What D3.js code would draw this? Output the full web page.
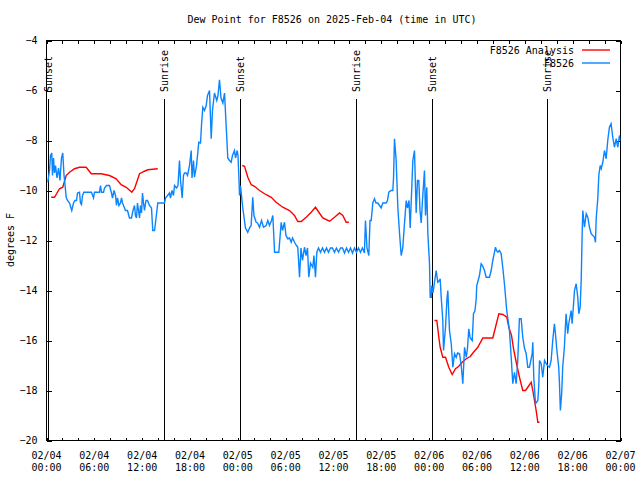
<!DOCTYPE html>
<html><head><meta charset="utf-8">
<script src="https://cdn.jsdelivr.net/npm/d3@7/dist/d3.min.js"></script>
<style>
html,body{margin:0;padding:0;background:#fff;}
svg{display:block;}
text{font-family:"DejaVu Sans Mono","Liberation Mono",monospace;font-size:10px;fill:#000;}
</style></head>
<body>
<svg id="chart" width="640" height="480"></svg>
<script>
// ---- data (hours after 2025-02-04 00:00 UTC) ----
const titleText = "Dew Point for F8526 on 2025-Feb-04 (time in UTC)";
const yLabel = "degrees F";
const seriesNames = ["F8526 Analysis", "F8526"];
const yTicks = [-4, -6, -8, -10, -12, -14, -16, -18, -20];
const xLabelHours = [0, 6, 12, 18, 24, 30, 36, 42, 48, 54, 60, 66, 72];

const obsTime = [0.16,0.38,0.50,0.66,0.75,0.88,1.00,1.13,1.32,1.51,1.69,1.88,2.04,2.20,2.30,2.47,2.63,2.89,3.17,3.39,3.57,3.76,3.89,4.14,4.26,4.39,4.52,4.68,5.14,5.64,5.90,6.02,6.65,6.77,6.90,7.15,7.28,7.53,7.90,8.15,8.28,8.47,8.66,8.78,8.91,9.09,9.28,9.41,9.53,9.66,9.91,10.16,10.41,10.66,10.85,11.04,11.16,11.29,11.41,11.54,11.67,11.79,11.92,12.04,12.17,12.29,12.48,12.67,12.92,13.17,13.33,13.55,13.74,13.96,14.55,14.80,14.93,15.18,15.43,15.55,15.74,15.93,16.06,16.31,16.49,16.68,16.81,17.02,17.18,17.31,17.52,17.69,17.94,18.15,18.25,18.44,18.56,18.82,19.10,19.32,19.44,19.61,19.82,20.03,20.20,20.45,20.66,20.82,21.07,21.36,21.51,21.70,21.89,22.12,22.33,22.52,22.74,22.95,23.16,23.33,23.58,23.71,23.92,24.02,24.15,24.21,24.33,24.62,24.96,25.25,25.46,25.67,25.87,26.02,26.30,26.47,26.72,26.97,27.22,27.55,27.76,27.97,28.22,28.39,28.61,28.86,29.14,29.44,29.61,29.85,30.04,30.27,30.48,30.69,30.86,31.11,31.36,31.52,31.74,31.92,32.11,32.36,32.55,32.74,32.90,33.12,33.40,33.55,33.74,33.91,34.12,34.37,34.62,34.87,35.12,35.37,35.62,35.87,36.12,36.37,36.63,36.88,37.13,37.38,37.63,37.88,38.13,38.38,38.63,38.88,39.13,39.38,39.63,39.88,40.01,40.20,40.43,40.58,40.73,40.93,41.14,41.33,41.56,41.77,41.98,42.18,42.61,42.77,42.94,43.21,43.44,43.53,43.65,43.86,44.07,44.28,44.49,44.69,44.91,45.12,45.28,45.47,45.62,45.78,45.95,46.16,46.37,46.53,46.70,46.85,47.00,47.16,47.41,47.54,47.70,47.83,48.04,48.13,48.26,48.33,48.48,48.67,48.88,49.08,49.29,49.38,49.51,49.71,49.80,50.05,50.24,50.34,50.55,50.77,50.97,51.18,51.39,51.56,51.81,52.02,52.22,52.44,52.65,52.81,52.97,53.15,53.40,53.56,53.75,53.90,53.97,54.31,54.52,54.69,54.94,55.15,55.56,55.78,55.98,56.32,56.44,56.61,56.82,57.03,57.23,57.44,57.73,58.07,58.29,58.49,58.70,58.91,59.11,59.32,59.54,59.74,59.95,60.17,60.37,60.58,60.92,61.00,61.12,61.34,61.63,61.75,61.84,62.05,62.25,62.47,62.68,62.84,63.09,63.30,63.50,63.71,63.84,64.00,64.25,64.33,64.46,64.62,64.75,64.96,65.17,65.38,65.51,65.81,65.93,66.23,66.44,66.64,66.77,66.94,67.07,67.19,67.27,67.48,67.70,67.90,68.11,68.32,68.74,68.86,68.95,69.15,69.28,69.45,69.58,69.78,69.99,70.20,70.40,70.61,70.82,71.03,71.24,71.46,71.66,71.87,72.0];
const obsDew = [-9.67,-9.2,-8.6,-8.5,-9.4,-8.7,-9.3,-9.0,-9.5,-9.1,-9.6,-8.7,-8.5,-9.4,-9.7,-10.27,-10.4,-10.5,-10.8,-10.5,-10.4,-10.4,-10.1,-10.07,-10.5,-10.56,-10.2,-10.07,-10.07,-10.07,-10.3,-10.07,-10.07,-9.8,-10.07,-10.07,-9.9,-9.8,-9.8,-10.1,-10.3,-10.0,-10.2,-10.6,-10.3,-10.6,-10.5,-10.3,-10.5,-10.6,-10.8,-10.8,-11.1,-11.1,-10.8,-10.6,-11.0,-11.1,-10.5,-10.8,-11.1,-10.6,-10.9,-10.1,-10.5,-10.8,-10.4,-10.4,-10.6,-10.7,-11.6,-11.6,-11.1,-10.5,-10.5,-10.5,-10.3,-10.2,-10.1,-10.3,-10.0,-10.2,-9.8,-9.9,-9.8,-8.8,-9.6,-10.3,-9.4,-9.3,-9.3,-9.4,-9.0,-8.4,-9.5,-8.8,-9.47,-9.0,-8.07,-8.1,-7.4,-6.67,-6.8,-6.6,-6.2,-6.0,-7.93,-6.8,-6.1,-6.4,-6.2,-5.57,-6.3,-6.5,-6.1,-7.3,-8.7,-8.8,-8.87,-8.6,-8.4,-8.7,-8.4,-8.6,-9.6,-10.2,-9.8,-10.7,-11.5,-11.67,-11.5,-11.4,-10.27,-11.0,-11.27,-11.3,-11.47,-11.2,-11.47,-11.4,-11.2,-11.4,-11.2,-11.0,-12.47,-12.47,-12.47,-11.27,-11.6,-11.27,-11.8,-11.93,-11.9,-12.07,-11.9,-12.07,-12.2,-12.27,-13.47,-12.3,-12.8,-12.27,-12.6,-12.3,-13.47,-12.9,-13.07,-12.6,-13.47,-12.47,-12.3,-12.47,-12.3,-12.47,-12.3,-12.47,-12.3,-12.3,-12.47,-12.3,-12.47,-12.3,-12.3,-12.5,-12.3,-12.47,-12.3,-12.5,-12.3,-12.47,-12.3,-12.47,-12.3,-12.5,-11.2,-12.3,-12.6,-11.2,-11.2,-10.5,-10.33,-10.5,-10.5,-10.6,-10.7,-10.5,-10.5,-10.4,-10.07,-10.0,-10.0,-9.5,-7.93,-8.8,-10.67,-11.7,-12.6,-12.3,-11.3,-10.4,-10.7,-10.4,-11.5,-10.2,-8.8,-8.4,-10.9,-9.6,-9.6,-10.8,-11.3,-10.4,-9.2,-11.0,-9.87,-11.7,-12.9,-14.27,-14.27,-13.8,-14.1,-13.67,-13.2,-13.67,-13.6,-13.53,-14.27,-15.2,-16.4,-15.47,-14.3,-14.0,-15.6,-16.13,-17.07,-16.53,-16.67,-16.5,-16.53,-17.0,-17.73,-16.27,-16.67,-16.3,-15.53,-15.9,-16.0,-14.93,-14.8,-14.33,-13.8,-13.4,-12.93,-13.0,-13.2,-13.47,-13.47,-13.2,-12.8,-12.27,-12.4,-12.47,-12.4,-12.53,-13.07,-13.73,-14.8,-15.6,-16.67,-17.73,-17.27,-17.73,-16.8,-15.13,-15.13,-15.87,-16.3,-16.53,-17.07,-17.07,-16.53,-16.07,-17.47,-18.53,-18.4,-17.8,-16.8,-16.93,-17.47,-16.8,-16.93,-17.0,-17.07,-16.8,-16.0,-15.33,-15.73,-16.33,-17.07,-17.6,-18.8,-18.13,-17.07,-16.27,-14.93,-15.73,-15.33,-14.8,-15.33,-14.0,-13.73,-14.27,-14.93,-14.67,-13.6,-11.73,-10.8,-11.47,-10.93,-11.07,-11.47,-11.73,-11.87,-12.07,-11.13,-10.33,-9.4,-9.0,-9.13,-8.87,-8.4,-8.73,-8.0,-7.47,-7.33,-7.87,-8.27,-7.93,-8.27,-7.8,-8.0];

// analysis series: null entries separate the gaps
const anaTime = [0.59,1.00,1.63,2.04,2.47,2.89,3.51,4.14,4.98,5.61,6.86,7.90,8.74,9.37,10.0,10.70,11.04,11.67,12.29,12.71,13.96,null,24.55,24.84,25.25,25.68,26.09,26.72,27.56,28.19,28.81,29.64,30.48,31.11,31.52,31.95,32.58,33.20,33.74,34.16,34.66,35.50,36.13,36.75,37.17,37.59,37.92,null,48.67,48.96,49.21,49.38,49.71,50.05,50.46,50.89,51.30,51.72,52.14,52.65,53.15,53.56,54.10,54.73,55.98,56.32,56.74,57.24,57.74,57.99,58.33,58.58,58.92,59.33,59.74,60.08,60.37,60.80,61.00,61.21,61.42,61.63,61.84];
const anaDew = [-10.27,-10.27,-9.93,-9.87,-9.4,-9.27,-9.13,-9.07,-9.07,-9.33,-9.33,-9.4,-9.53,-9.77,-9.87,-10.07,-9.93,-9.33,-9.23,-9.17,-9.13,null,-9.0,-9.03,-9.47,-9.77,-9.83,-10.0,-10.17,-10.27,-10.47,-10.67,-10.8,-11.0,-11.24,-11.24,-11.07,-10.87,-10.67,-10.87,-11.1,-11.23,-11.07,-10.9,-11.0,-11.27,-11.27,null,-15.2,-15.2,-15.87,-16.27,-16.67,-16.67,-17.07,-17.36,-17.13,-17.03,-16.87,-16.73,-16.64,-16.47,-16.27,-15.9,-15.9,-15.47,-14.93,-14.96,-15.07,-15.47,-15.8,-16.33,-16.87,-17.47,-18.0,-18.0,-17.87,-17.67,-18.0,-18.4,-18.8,-19.27,-19.27];

const eventNames = ["Sunset","Sunrise","Sunset","Sunrise","Sunset","Sunrise"];
const eventHours = [0.25, 14.80, 24.33, 38.89, 48.42, 62.85];

const seriesColors = ["#ff0000", "#0a84ff"];

// ---- drawing ----
const svg = d3.select("#chart");
const t0 = Date.UTC(2025, 1, 4, 0, 0);
const toDate = h => new Date(t0 + h * 3600e3);
const L = 46.5, R = 620.5, T = 40.5, B = 440.5;
const x = d3.scaleUtc().domain([toDate(0), toDate(72)]).range([L, R]);
const y = d3.scaleLinear().domain([-20, -4]).range([B, T]);

svg.append("text").attr("x", 332).attr("y", 23).attr("text-anchor", "middle").text(titleText);

// axes (ticks inward)
const minorTicks = d3.range(0, 73, 2).map(toDate);
const gB = svg.append("g").attr("transform", `translate(0,${B})`)
  .call(d3.axisBottom(x).tickValues(minorTicks).tickSize(-3).tickFormat(""));
const gT = svg.append("g").attr("transform", `translate(0,${T})`)
  .call(d3.axisTop(x).tickValues(minorTicks).tickSize(-3).tickFormat(""));
const gL = svg.append("g").attr("transform", `translate(${L},0)`)
  .call(d3.axisLeft(y).tickValues(yTicks).tickSize(-5).tickPadding(9).tickFormat(d3.format("d")));
const gR = svg.append("g").attr("transform", `translate(${R},0)`)
  .call(d3.axisRight(y).tickValues(yTicks).tickSize(-5).tickFormat(""));
[gB, gT, gL, gR].forEach(g => {
  g.select(".domain").remove();
  g.selectAll("line").attr("stroke", "#000").attr("shape-rendering", "crispEdges");
});
gL.selectAll("text").attr("font-family", null).attr("font-size", null).style("font-family", '"DejaVu Sans Mono",monospace').style("font-size", "10px").attr("fill","#000");
gL.attr("font-family", null).attr("font-size", null);
gB.attr("font-family", null); gT.attr("font-family", null); gR.attr("font-family", null);

// x labels, two lines
const fmtDate = d3.utcFormat("%m/%d"), fmtTime = d3.utcFormat("%H:%M");
const xl = svg.append("g");
xLabelHours.forEach(h => {
  const d = toDate(h);
  xl.append("text").attr("x", x(d)).attr("y", 459).attr("text-anchor", "middle").text(fmtDate(d));
  xl.append("text").attr("x", x(d)).attr("y", 471).attr("text-anchor", "middle").text(fmtTime(d));
});

// y label
svg.append("text").attr("transform", "translate(14,240) rotate(-90)").attr("text-anchor", "middle").text(yLabel);

// border
svg.append("rect").attr("x", L).attr("y", T).attr("width", R - L).attr("height", B - T)
  .attr("fill", "none").attr("stroke", "#000").attr("shape-rendering", "crispEdges");

// sunrise / sunset markers
eventHours.forEach((h, i) => {
  const xp = Math.round(x(toDate(h)) - 0.5) + 0.5;
  svg.append("line").attr("x1", xp).attr("x2", xp).attr("y1", 99).attr("y2", B)
    .attr("stroke", "#000").attr("shape-rendering", "crispEdges");
  svg.append("text").attr("transform", `translate(${xp + 3.5},92) rotate(-90)`)
    .attr("text-anchor", "start").text(eventNames[i]);
});

// lines
const clip = svg.append("clipPath").attr("id", "clip").append("rect")
  .attr("x", L).attr("y", T).attr("width", R - L).attr("height", B - T);
const line = d3.line().defined(d => d[0] !== null && d[1] !== null)
  .x(d => x(toDate(d[0]))).y(d => y(d[1]));
const obs = obsTime.map((t, i) => [t, obsDew[i]]);
const ana = anaTime.map((t, i) => [t, anaDew[i]]);
svg.append("path").attr("d", line(ana)).attr("fill", "none").attr("stroke", seriesColors[0])
  .attr("stroke-width", 1.4).attr("clip-path", "url(#clip)");
svg.append("path").attr("d", line(obs)).attr("fill", "none").attr("stroke", seriesColors[1])
  .attr("stroke-width", 1.4).attr("clip-path", "url(#clip)");

// legend
seriesNames.forEach((n, i) => {
  const yy = 50 + i * 13;
  svg.append("text").attr("x", 574).attr("y", yy + 3.5).attr("text-anchor", "end").text(n);
  svg.append("line").attr("x1", 582).attr("x2", 610).attr("y1", yy).attr("y2", yy)
    .attr("stroke", seriesColors[i]).attr("stroke-width", 1.4);
});
</script>
</body></html>
